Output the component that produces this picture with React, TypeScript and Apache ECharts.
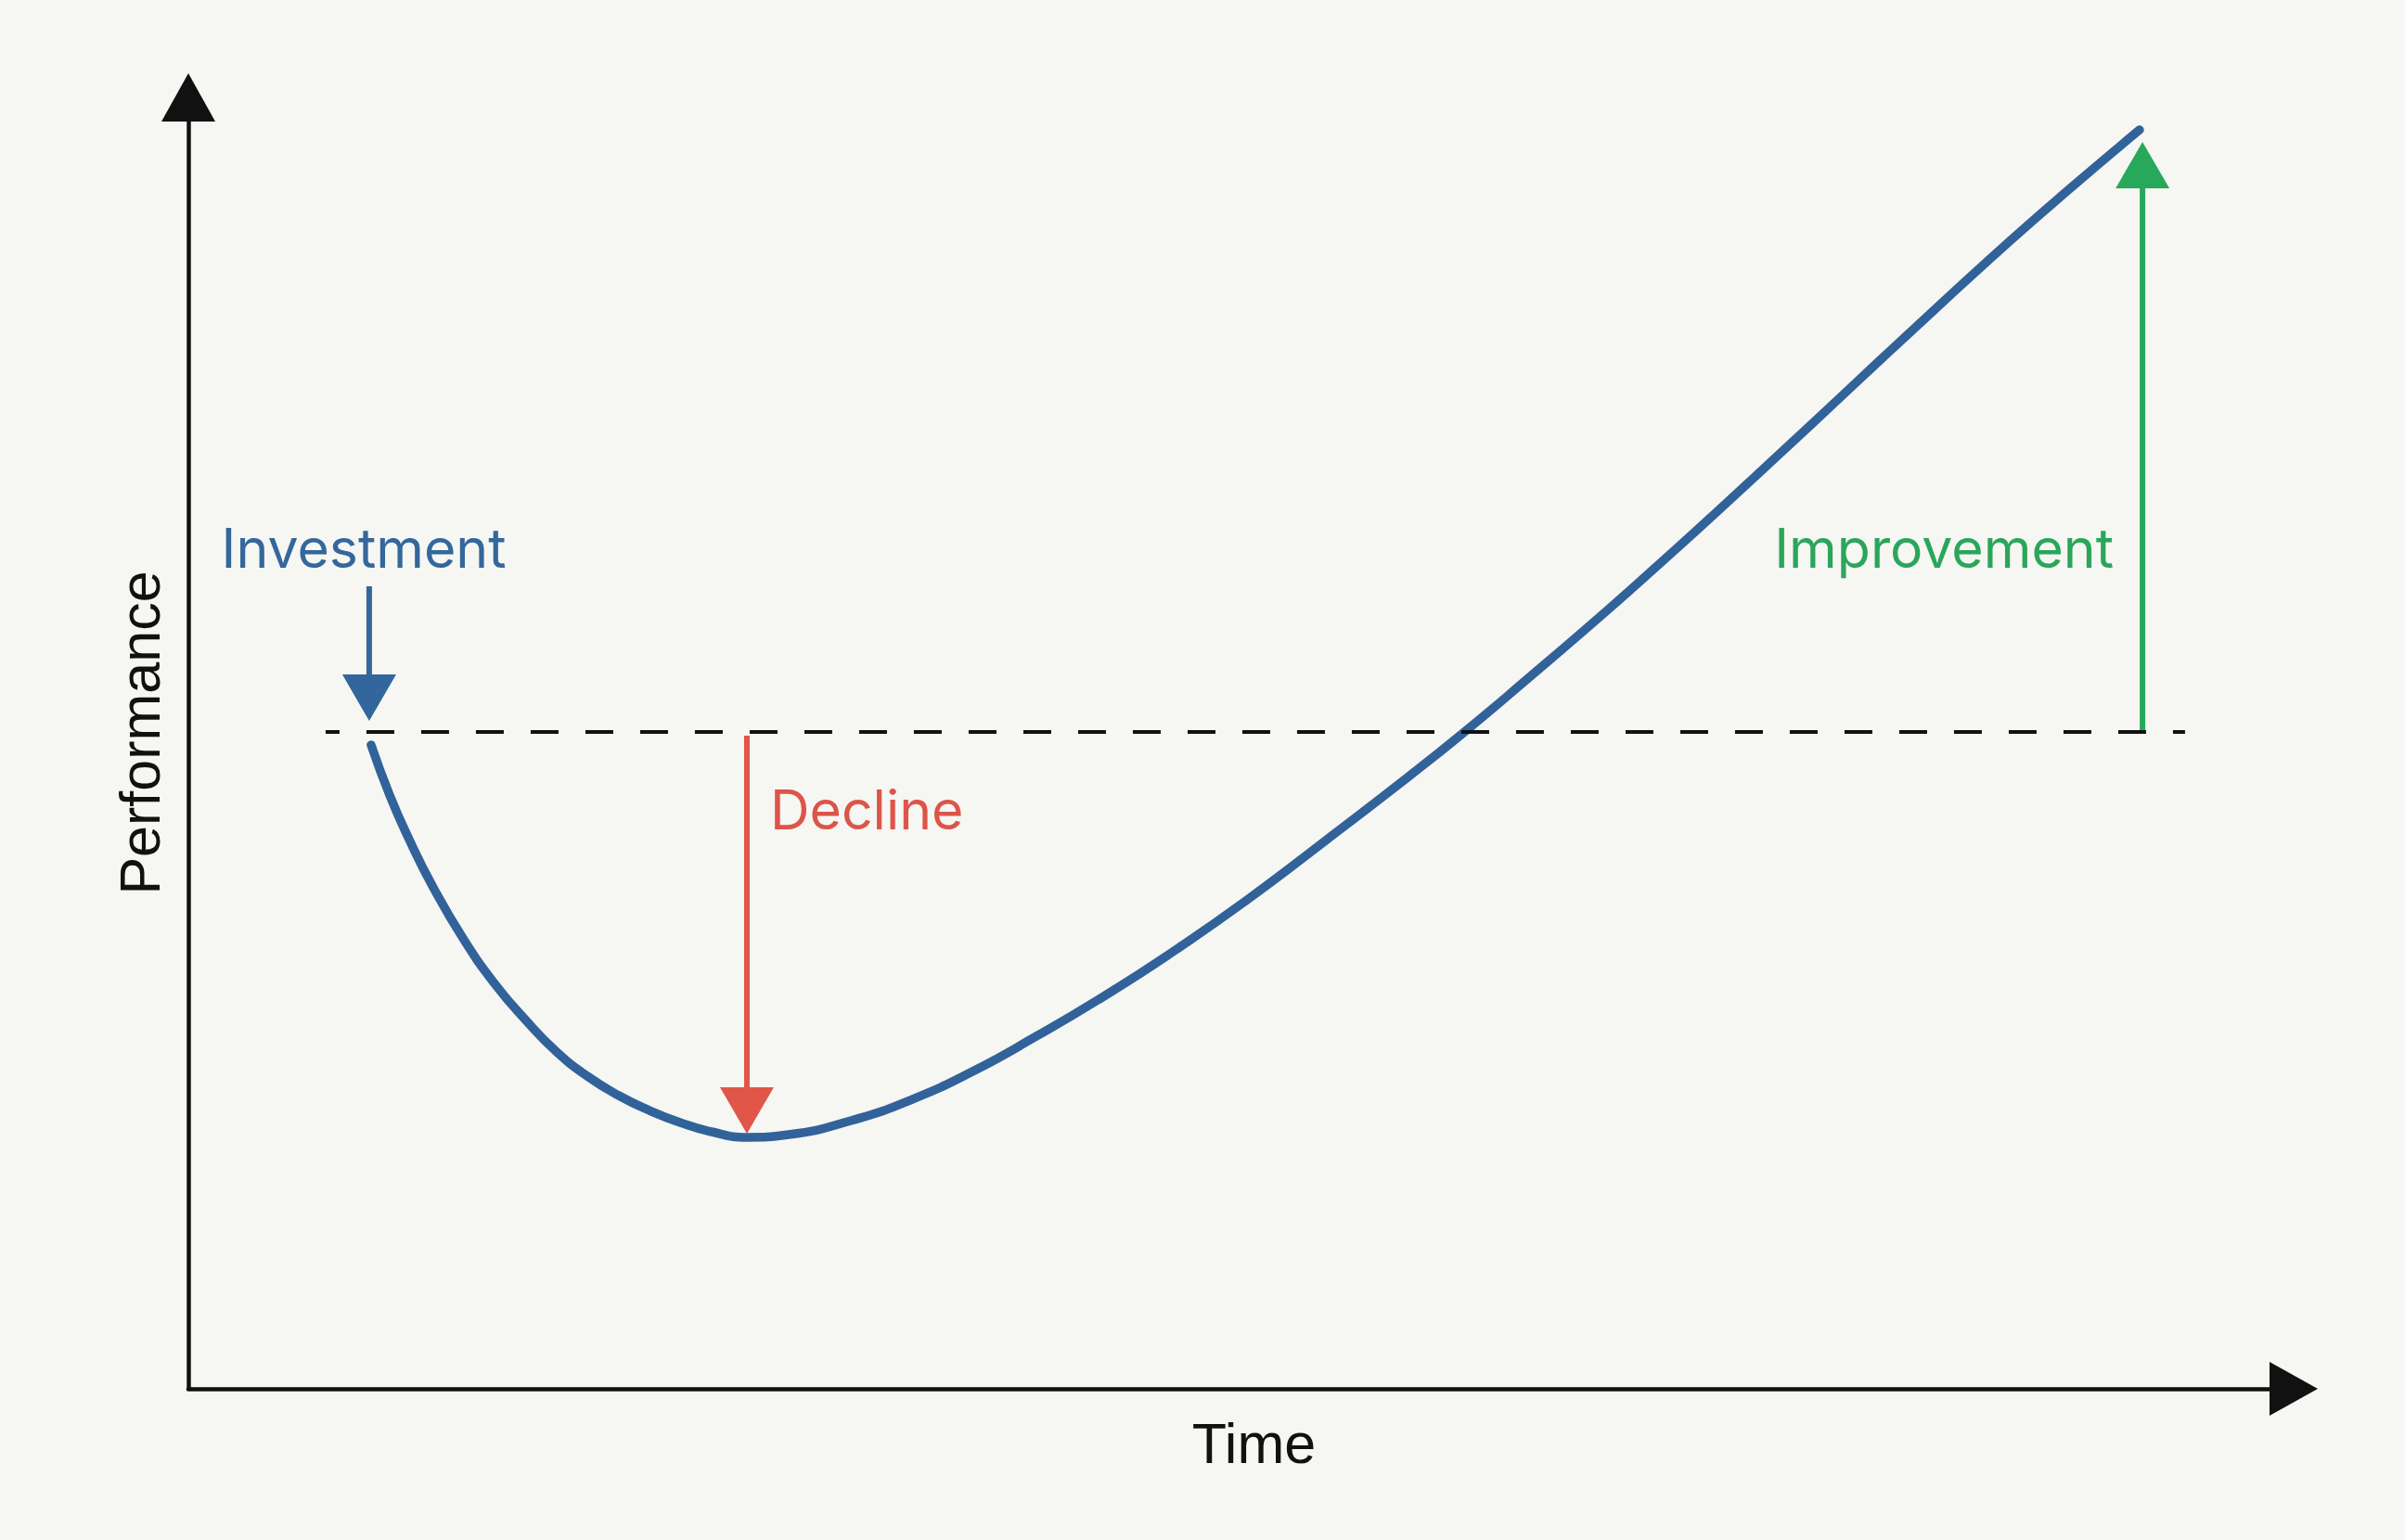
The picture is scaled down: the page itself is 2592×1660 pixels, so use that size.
import React, { useEffect, useRef } from "react";
import * as echarts from "echarts";

// ---- data (time axis 0..100, performance axis 0..100) ----
const timeValues = [
  8.68, 9.56, 10.45, 11.64, 13.09, 14.54, 16.04, 17.5, 18.95, 20.45, 21.9, 23.36, 24.86, 26.53,
  28.51, 31.47, 34.38, 37.33, 40.28, 43.19, 46.5, 50.29, 54.08, 57.91, 60.56, 63.6, 67.39,
  70.21, 72.59, 77.21, 81.84, 86.51, 89.6, 92.68,
];
const performanceValues = [
  49.86, 45.98, 42.67, 38.79, 34.77, 31.39, 28.52, 26.08, 24.21, 22.7, 21.55, 20.62, 19.9, 19.47,
  19.68, 20.76, 22.41, 24.64, 27.3, 30.1, 33.55, 37.86, 42.53, 47.34, 50.79, 54.96, 60.27,
  64.37, 67.89, 74.86, 81.9, 88.86, 93.25, 97.49,
];
const baselineValue = 50.9;
const baselineStart = 6.52;
const baselineEnd = 94.84;

const annotationLabels = ["Investment", "Decline", "Improvement"];
const arrowX = [8.59, 26.53, 92.82];
const arrowFrom = [62.14, 50.57, 50.86];
const arrowTo = [51.72, 19.76, 96.55];
const labelX = [8.33, 27.63, 91.45];
const labelY = [65.09, 44.83, 65.09];

const axisNames = ["Time", "Performance"];

// ---- styles ----
const arrowColors = ["#33669c", "#e05648", "#27a85b"];
const labelColors = ["#34679c", "#dc5549", "#2aa65c"];
const labelAligns = ["center", "left", "right"];
const BG = "#f6f6f2";
const HEAD_LEN = 50;
const HEAD_HALF = 29;

export default function App() {
  const ref = useRef<HTMLDivElement | null>(null);

  useEffect(() => {
    if (!ref.current) return;
    document.body.style.margin = "0";
    document.body.style.background = BG;
    const chart = echarts.init(ref.current, undefined, { renderer: "svg" });

    const curveData = timeValues.map((t, i) => [t, performanceValues[i]]);
    const arrowData = arrowX.map((x, i) => [x, arrowFrom[i], arrowTo[i], labelX[i], labelY[i]]);

    const axisLineStyle = { color: "#111111", width: 4.5 };

    chart.setOption({
      animation: false,
      backgroundColor: BG,
      grid: { left: 203, right: 120, top: 105, bottom: 163, containLabel: false },
      xAxis: {
        type: "value",
        min: 0,
        max: 100,
        name: axisNames[0],
        nameLocation: "middle",
        nameGap: 28,
        nameTextStyle: {
          fontSize: 61,
          fontFamily: "Liberation Sans",
          color: "#111111",
          lineHeight: 61,
          padding: [0, 0, 0, 28],
        },
        axisLine: {
          show: true,
          symbol: ["none", "triangle"],
          symbolSize: [58, 52],
          lineStyle: axisLineStyle,
        },
        axisTick: { show: false },
        axisLabel: { show: false },
        splitLine: { show: false },
      },
      yAxis: {
        type: "value",
        min: 0,
        max: 100,
        name: axisNames[1],
        nameLocation: "middle",
        nameGap: 22,
        nameTextStyle: {
          fontSize: 61,
          fontFamily: "Liberation Sans",
          color: "#111111",
          lineHeight: 61,
          padding: [0, 0, 0, 22],
        },
        axisLine: {
          show: true,
          symbol: ["none", "triangle"],
          symbolSize: [58, 52],
          lineStyle: axisLineStyle,
        },
        axisTick: { show: false },
        axisLabel: { show: false },
        splitLine: { show: false },
      },
      series: [
        {
          type: "line",
          data: curveData,
          smooth: 0.5,
          showSymbol: false,
          symbol: "none",
          z: 3,
          lineStyle: { color: "#31629a", width: 9.5, cap: "round" },
          markLine: {
            silent: true,
            symbol: ["none", "none"],
            label: { show: false },
            lineStyle: { color: "#111111", width: 4, type: [30, 29], dashOffset: 15 },
            data: [[{ coord: [baselineStart, baselineValue] }, { coord: [baselineEnd, baselineValue] }]],
          },
        },
        {
          type: "custom",
          coordinateSystem: "cartesian2d",
          clip: false,
          z: 4,
          data: arrowData,
          renderItem: (params: any, api: any) => {
            const i = params.dataIndex;
            const s = api.coord([api.value(0), api.value(1)]);
            const e = api.coord([api.value(0), api.value(2)]);
            const l = api.coord([api.value(3), api.value(4)]);
            const dir = e[1] > s[1] ? 1 : -1;
            const baseY = e[1] - dir * HEAD_LEN;
            const color = arrowColors[i];
            return {
              type: "group",
              children: [
                {
                  type: "line",
                  shape: { x1: s[0], y1: s[1], x2: e[0], y2: baseY + dir * 2 },
                  style: { stroke: color, lineWidth: 6 },
                },
                {
                  type: "polygon",
                  shape: {
                    points: [
                      [e[0] - HEAD_HALF, baseY],
                      [e[0] + HEAD_HALF, baseY],
                      [e[0], e[1]],
                    ],
                  },
                  style: { fill: color },
                },
                {
                  type: "text",
                  x: l[0],
                  y: l[1],
                  style: {
                    text: annotationLabels[i],
                    fill: labelColors[i],
                    fontSize: 59,
                    fontFamily: "Inter",
                    align: labelAligns[i],
                    verticalAlign: "middle",
                  },
                },
              ],
            };
          },
        },
      ],
    });

    return () => chart.dispose();
  }, []);

  return (
    <div
      ref={ref}
      style={{ position: "fixed", left: 0, top: 0, width: 2592, height: 1660, background: BG }}
    />
  );
}
